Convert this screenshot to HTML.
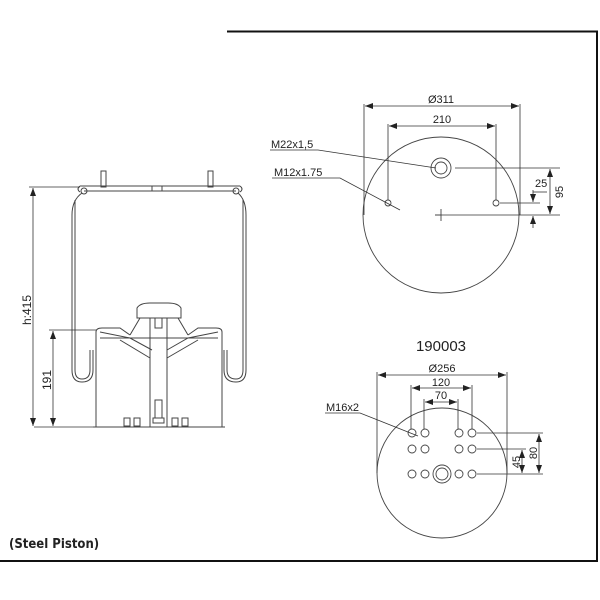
<!DOCTYPE html>
<html><head><meta charset="utf-8"><style>
html,body{margin:0;padding:0;background:#fff}
svg{display:block}
text{font-family:"Liberation Sans",sans-serif;fill:#222}
</style></head><body>
<svg width="600" height="600" viewBox="0 0 600 600" xmlns="http://www.w3.org/2000/svg">
<defs>
<marker id="a" markerWidth="8" markerHeight="6" refX="8" refY="3" orient="auto-start-reverse" markerUnits="userSpaceOnUse"><path d="M0,0 L8,3 L0,6z" fill="#222"/></marker>
</defs>
<!-- frame -->
<path d="M227,31.5 H597 V561 H0" fill="none" stroke="#111" stroke-width="2"/>

<!-- LEFT SIDE VIEW -->
<g fill="none" stroke="#444" stroke-width="1">
<!-- top plate -->
<path d="M80,186 H240 M84,191 H236 M80,186 q-4,3 0,6 M240,186 q4,3 0,6"/>
<circle cx="84" cy="191" r="3"/><circle cx="236" cy="191" r="3"/>
<rect x="152" y="186" width="10" height="5"/>
<!-- studs -->
<rect x="101" y="171" width="5" height="16"/><rect x="208" y="171" width="5" height="16"/>
<!-- bellows -->
<path d="M82,193 Q72,200 72,215 V370 Q72,382 82,382 Q93,382 93,370 V350"/>
<path d="M75,200 Q75,200 75,215 V370 Q75,379 82,379 Q90,379 90,370 V350"/>
<path d="M238,193 Q246,200 246,215 V370 Q246,382 236,382 Q224,382 224,370 V350"/>
<path d="M243,200 V370 Q243,379 236,379 Q227,379 227,370 V350"/>
<!-- piston body -->
<path d="M96,332 V427 M222,332 V427 M93,427 H225 M96,332 Q96,328 102,328 L120,328 L130,335 M222,332 Q222,328 216,328 L198,328 L188,335"/>
<path d="M100,332 L130,338 L152,350 M218,332 L188,338 L167,350"/>
<path d="M100,338 H218"/>
<path d="M130,335 L140,318 M188,335 L178,318"/>
<path d="M120,340 L150,358 M198,340 L167,358"/>
<!-- cap -->
<path d="M137,318 V308 Q140,303 150,303 H168 Q178,303 181,308 V318 Z"/>
<!-- rod -->
<path d="M150,318 V427 M167,318 V427"/>
<rect x="155" y="318" width="7" height="10"/>
<rect x="155" y="400" width="7" height="18"/>
<rect x="153" y="418" width="11" height="5"/>
<rect x="124" y="418" width="6" height="8"/><rect x="134" y="418" width="6" height="8"/>
<rect x="172" y="418" width="6" height="8"/><rect x="182" y="418" width="6" height="8"/>
</g>
<!-- left dims -->
<g stroke="#333" stroke-width="0.8" fill="none">
<path d="M29,187 H80 M34,427 H93 M49,330 H96"/>
<line x1="33" y1="188" x2="33" y2="426" marker-start="url(#a)" marker-end="url(#a)"/>
<line x1="53" y1="331" x2="53" y2="426" marker-start="url(#a)" marker-end="url(#a)"/>
</g>
<text transform="translate(31,310) rotate(-90)" font-size="12" text-anchor="middle">h:415</text>
<text transform="translate(51,380) rotate(-90)" font-size="12" text-anchor="middle">191</text>
<text x="9" y="548" font-size="13" font-weight="bold" style="font-family:'DejaVu Sans Condensed','DejaVu Sans',sans-serif;font-weight:bold">(Steel Piston)</text>

<!-- UPPER PLAN -->
<g fill="none" stroke="#444" stroke-width="0.9">
<circle cx="441" cy="215" r="78"/>
<circle cx="441" cy="168" r="10"/><circle cx="441" cy="168" r="6"/>
<circle cx="388" cy="203" r="3"/><circle cx="496" cy="203" r="3"/>
<path d="M441,209 V221 M435,215 H441"/>
</g>
<g stroke="#333" stroke-width="0.8" fill="none">
<path d="M364,104 V215 M520,104 V215 M388,124 V200 M496,124 V200"/>
<line x1="365" y1="106" x2="519" y2="106" marker-start="url(#a)" marker-end="url(#a)"/>
<line x1="389" y1="126" x2="495" y2="126" marker-start="url(#a)" marker-end="url(#a)"/>
<path d="M455,168 H560 M500,203 H540 M441,215 H560"/>
<line x1="533" y1="190" x2="533" y2="202" marker-end="url(#a)"/>
<line x1="533" y1="228" x2="533" y2="216" marker-end="url(#a)"/>
<path d="M533,192 H547"/>
<line x1="550" y1="169" x2="550" y2="214" marker-start="url(#a)" marker-end="url(#a)"/>
<path d="M270,150 H318 L436,168 M272,178 H340 L385,202 L400,210"/>
</g>
<text x="441" y="103" font-size="11" text-anchor="middle">Ø311</text>
<text x="442" y="123" font-size="11" text-anchor="middle">210</text>
<text x="271" y="148" font-size="11">M22x1,5</text>
<text x="274" y="176" font-size="11">M12x1.75</text>
<text x="535" y="187" font-size="11">25</text>
<text transform="translate(563,192) rotate(-90)" font-size="11" text-anchor="middle">95</text>

<!-- LOWER PLAN -->
<text x="441" y="351" font-size="15" text-anchor="middle">190003</text>
<g fill="none" stroke="#444" stroke-width="0.9">
<circle cx="442" cy="473" r="65"/>
<circle cx="442" cy="474" r="9"/><circle cx="442" cy="474" r="6"/>
<circle cx="412" cy="433" r="4"/><circle cx="425" cy="433" r="4"/><circle cx="459" cy="433" r="4"/><circle cx="472" cy="433" r="4"/>
<circle cx="412" cy="449" r="4"/><circle cx="425" cy="449" r="4"/><circle cx="459" cy="449" r="4"/><circle cx="472" cy="449" r="4"/>
<circle cx="412" cy="474" r="4"/><circle cx="425" cy="474" r="4"/><circle cx="459" cy="474" r="4"/><circle cx="472" cy="474" r="4"/>
</g>
<g stroke="#333" stroke-width="0.8" fill="none">
<path d="M377,372 V473 M507,372 V473 M411,385 V429 M472,385 V429 M424,399 V429 M458,399 V429"/>
<line x1="378" y1="375" x2="506" y2="375" marker-start="url(#a)" marker-end="url(#a)"/>
<line x1="412" y1="388" x2="471" y2="388" marker-start="url(#a)" marker-end="url(#a)"/>
<line x1="425" y1="402" x2="457" y2="402" marker-start="url(#a)" marker-end="url(#a)"/>
<path d="M477,433 H543 M477,449 H526 M477,474 H543"/>
<line x1="522" y1="450" x2="522" y2="473" marker-start="url(#a)" marker-end="url(#a)"/>
<line x1="539" y1="434" x2="539" y2="473" marker-start="url(#a)" marker-end="url(#a)"/>
<path d="M325,413 H360 L418,436"/>
</g>
<text x="442" y="372" font-size="11" text-anchor="middle">Ø256</text>
<text x="441" y="386" font-size="11" text-anchor="middle">120</text>
<text x="441" y="399" font-size="11" text-anchor="middle">70</text>
<text x="326" y="411" font-size="11">M16x2</text>
<text transform="translate(520,462) rotate(-90)" font-size="11" text-anchor="middle">45</text>
<text transform="translate(537,453) rotate(-90)" font-size="11" text-anchor="middle">80</text>
</svg>
</body></html>
